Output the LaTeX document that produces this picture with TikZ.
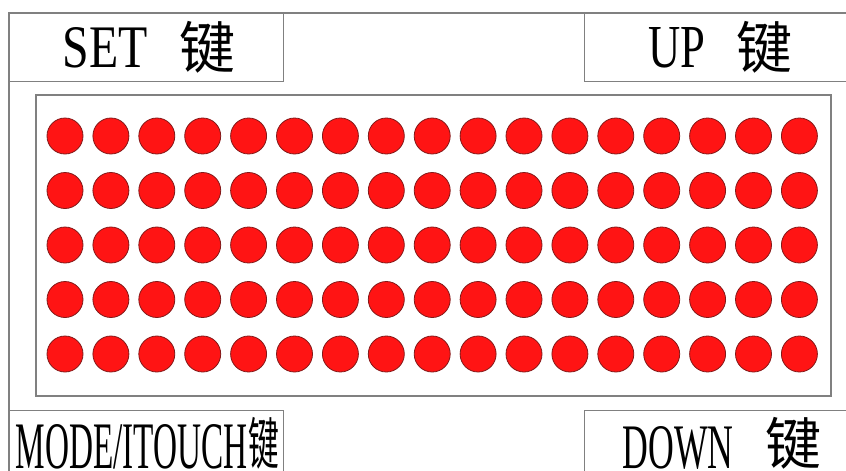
\documentclass[tikz,border=0pt]{standalone}
\usepackage{fontspec}
\usepackage{graphicx}
\setmainfont{Liberation Serif}
\newfontfamily\cjkfont{Noto Sans CJK SC}

\definecolor{framegray}{RGB}{128,128,128}
\definecolor{ledred}{RGB}{255,20,20}
\definecolor{ledrim}{RGB}{130,25,25}

\tikzset{every picture/.style={line width=1.2pt}}
\tikzset{
	keybox/.style={draw=framegray, inner sep=0pt, anchor=north west},
	keytext/.style={anchor=base west, inner sep=0pt},
	jian/.style={inner sep=0pt, font=\cjkfont\fontsize{56}{56}\selectfont},
	led/.style={fill=ledred, draw=ledrim, line width=0.8pt}
}

\begin{document}
\begin{tikzpicture}[x=1pt,y=1pt,yscale=-1,xscale=1]
	\useasboundingbox (0,0) rectangle (846,471);
	\clip (0,0) rectangle (846,471);
	
	%Shape: Rectangle (outer frame)
	\draw [color=framegray] (9,13) rectangle (900,520);
	%Shape: Rectangle (LED panel)
	\draw [color=framegray] (36,95) rectangle (831,396);
	
	%Shape: Rectangle (key boxes)
	\node [keybox, minimum width=274pt, minimum height=68pt] (setkey) at (9,13) {};
	\node [keybox, minimum width=280pt, minimum height=68pt] (upkey) at (584,13) {};
	\node [keybox, minimum width=274pt, minimum height=80pt] (modekey) at (9,410) {};
	\node [keybox, minimum width=280pt, minimum height=80pt] (downkey) at (584,410) {};
	
	%Shape: Circles (LED matrix)
	\foreach \c in {0,...,16}
		\foreach \r in {0,...,4}
			\draw [led] (65+45.9*\c,136+54.5*\r) circle (18);
	
	% Text Node
	\node [keytext] (settext) at (62,67) {\resizebox{85pt}{40pt}{SET}};
	% Text Node
	\node [jian] (setjian) at (207,47) {键};
	% Text Node
	\node [keytext] (uptext) at (648,67) {\resizebox{57pt}{40pt}{UP}};
	% Text Node
	\node [jian] (upjian) at (764,47) {键};
	% Text Node
	\node [keytext] (modetext) at (15,468) {\resizebox{232pt}{44pt}{MODE/ITOUCH}};
	% Text Node
	\node [jian] (modejian) at (264,443) {\scalebox{0.55}[1]{键}};
	% Text Node
	\node [keytext] (downtext) at (622,468) {\resizebox{111pt}{42pt}{DOWN}};
	% Text Node
	\node [jian] (downjian) at (793,443) {键};
	
\end{tikzpicture}
\end{document}
